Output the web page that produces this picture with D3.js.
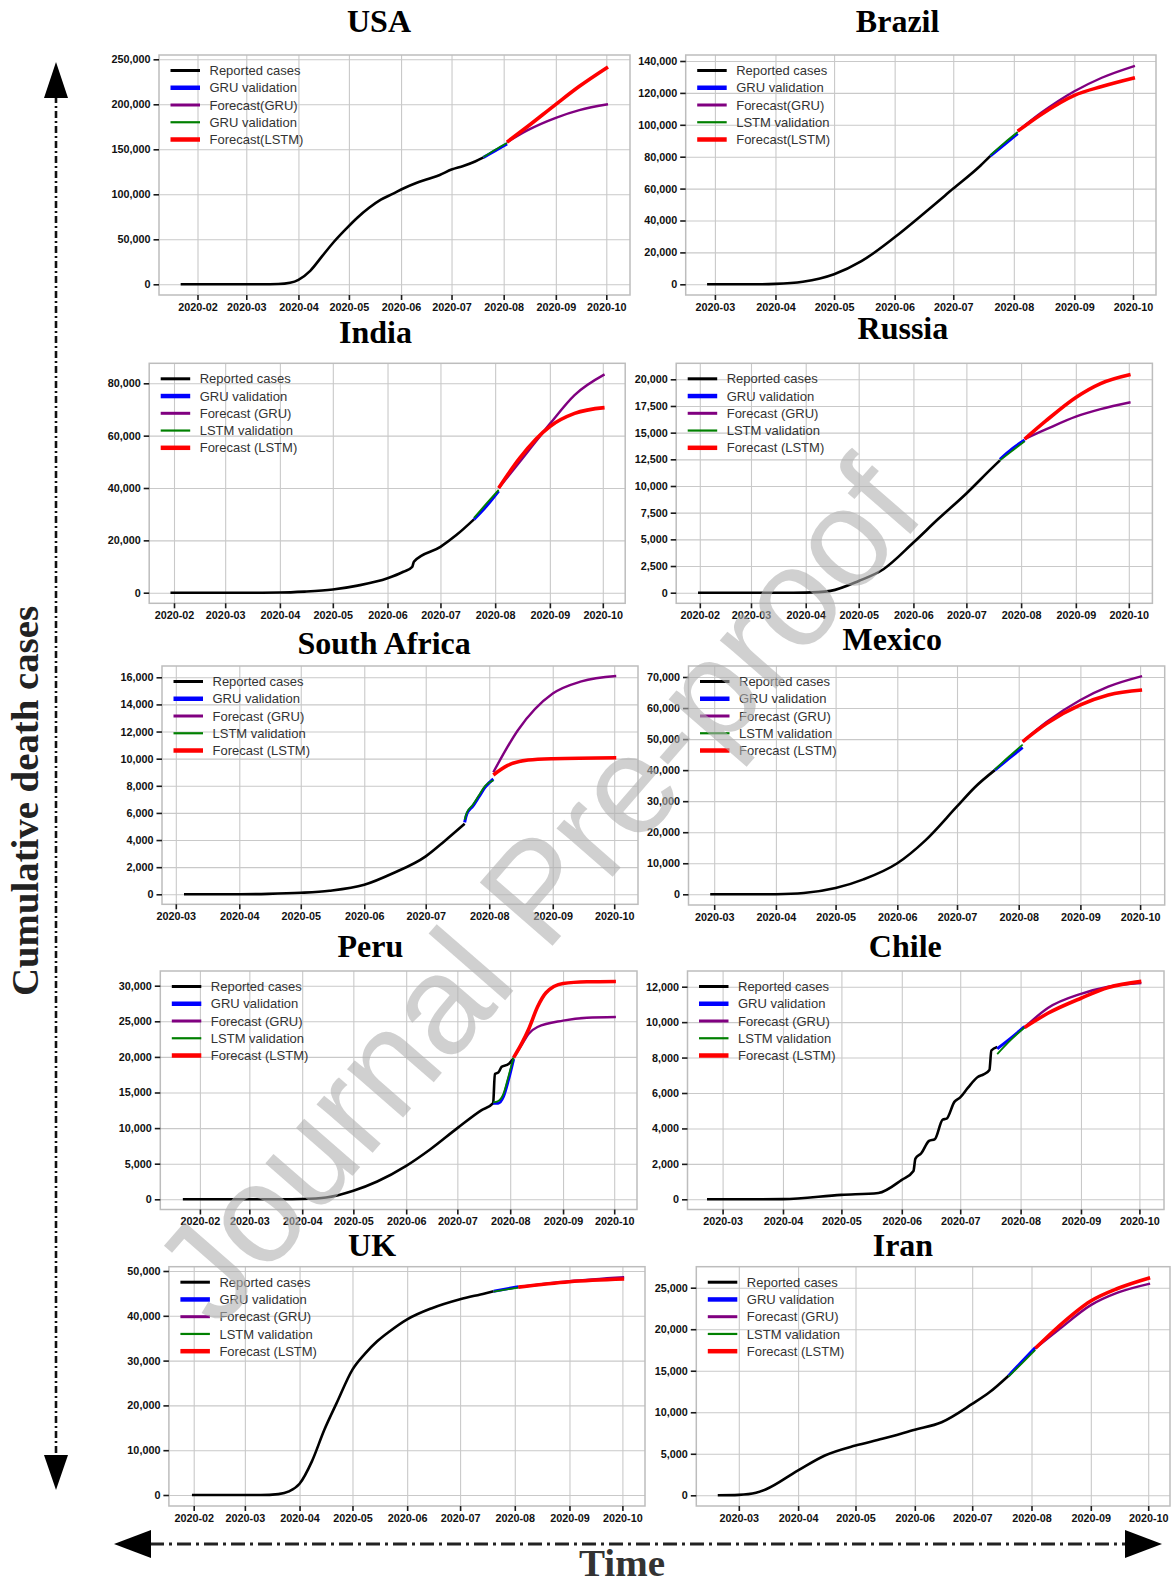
<!DOCTYPE html>
<html>
<head>
<meta charset="utf-8">
<script src="https://cdn.jsdelivr.net/npm/d3@7"></script>
<style>
body { margin: 0; background: #fff; }
svg { display: block; }
</style>
</head>
<body>
<svg id="chart"></svg>
<script>
const WIDTH = 1171;
const HEIGHT = 1586;

// ---- data (cumulative deaths) ----
const usaReported = [["2020-01-22",0],["2020-02-15",0],["2020-03-10",0],["2020-03-20",250],["2020-03-27",1700],["2020-04-01",5000],["2020-04-08",15000],["2020-04-15",31000],["2020-04-22",47000],["2020-04-29",61000],["2020-05-06",74000],["2020-05-13",85000],["2020-05-20",94000],["2020-05-27",100500],["2020-06-03",107000],["2020-06-10",112500],["2020-06-17",117000],["2020-06-24",121500],["2020-07-01",127500],["2020-07-08",131500],["2020-07-15",136500],["2020-07-20",141000]];
const usaGruVal = [["2020-07-20",141000],["2020-07-27",148500],["2020-08-03",156000]];
const usaGruFc = [["2020-08-03",158000],["2020-08-15",171000],["2020-09-01",185000],["2020-09-15",193500],["2020-10-02",200000]];
const usaLstmVal = [["2020-07-20",141500],["2020-07-27",149500],["2020-08-03",157000]];
const usaLstmFc = [["2020-08-03",158000],["2020-08-15",175000],["2020-09-01",200000],["2020-09-15",220000],["2020-10-02",241500]];

const brazilReported = [["2020-02-26",0],["2020-03-20",0],["2020-04-01",250],["2020-04-15",1600],["2020-05-01",6300],["2020-05-15",14500],["2020-06-01",29500],["2020-06-15",43500],["2020-07-01",60000],["2020-07-15",74500],["2020-07-20",80500]];
const brazilGruVal = [["2020-07-20",80500],["2020-07-27",87500],["2020-08-03",94500]];
const brazilGruFc = [["2020-08-03",96000],["2020-08-15",107500],["2020-09-01",121000],["2020-09-15",129500],["2020-10-02",137000]];
const brazilLstmVal = [["2020-07-20",81000],["2020-07-27",88500],["2020-08-03",95500]];
const brazilLstmFc = [["2020-08-03",96000],["2020-08-15",106500],["2020-09-01",118500],["2020-09-15",124000],["2020-10-02",129500]];

const indiaReported = [["2020-01-30",0],["2020-03-15",0],["2020-04-01",50],["2020-04-15",400],["2020-05-01",1200],["2020-05-15",2700],["2020-06-01",5500],["2020-06-10",8000],["2020-06-15",9900],["2020-06-16",11900],["2020-07-01",17500],["2020-07-10",22000],["2020-07-20",28000]];
const indiaGruVal = [["2020-07-20",28000],["2020-07-27",33000],["2020-08-03",38800]];
const indiaGruFc = [["2020-08-03",40000],["2020-08-15",50000],["2020-09-01",64500],["2020-09-15",75500],["2020-10-02",83400]];
const indiaLstmVal = [["2020-07-20",28600],["2020-07-27",34000],["2020-08-03",39300]];
const indiaLstmFc = [["2020-08-03",40000],["2020-08-15",51500],["2020-09-01",63500],["2020-09-15",68500],["2020-10-02",70700]];

const russiaReported = [["2020-01-31",0],["2020-03-25",0],["2020-04-08",50],["2020-04-15",170],["2020-05-01",1100],["2020-05-15",2200],["2020-06-01",4700],["2020-06-15",6900],["2020-07-01",9300],["2020-07-15",11600],["2020-07-20",12400]];
const russiaGruVal = [["2020-07-20",12500],["2020-07-27",13500],["2020-08-03",14300]];
const russiaGruFc = [["2020-08-03",14400],["2020-08-15",15300],["2020-09-01",16500],["2020-09-15",17200],["2020-10-02",17850]];
const russiaLstmVal = [["2020-07-20",12400],["2020-07-27",13300],["2020-08-03",14200]];
const russiaLstmFc = [["2020-08-03",14400],["2020-08-15",16100],["2020-09-01",18300],["2020-09-15",19600],["2020-10-02",20450]];

const safricaReported = [["2020-03-05",0],["2020-04-01",5],["2020-04-15",30],["2020-05-01",110],["2020-05-15",260],["2020-06-01",700],["2020-06-15",1550],["2020-07-01",2800],["2020-07-10",3900],["2020-07-20",5200]];
const safricaGruVal = [["2020-07-20",5300],["2020-07-21",5900],["2020-07-24",6500],["2020-07-27",7200],["2020-07-30",7900],["2020-08-03",8500]];
const safricaGruFc = [["2020-08-03",9000],["2020-08-15",12100],["2020-09-01",14800],["2020-09-15",15700],["2020-10-02",16100]];
const safricaLstmVal = [["2020-07-20",5500],["2020-07-21",6000],["2020-07-24",6600],["2020-07-27",7300],["2020-07-30",8000],["2020-08-03",8400]];
const safricaLstmFc = [["2020-08-03",8800],["2020-08-10",9500],["2020-08-20",9900],["2020-09-01",10000],["2020-10-02",10070]];

const mexicoReported = [["2020-02-28",0],["2020-03-25",0],["2020-04-01",30],["2020-04-15",400],["2020-05-01",2000],["2020-05-15",4800],["2020-06-01",10000],["2020-06-15",17300],["2020-07-01",28300],["2020-07-10",34500],["2020-07-20",40000]];
const mexicoGruVal = [["2020-07-20",40000],["2020-07-27",43700],["2020-08-03",47300]];
const mexicoGruFc = [["2020-08-03",49200],["2020-08-15",55500],["2020-09-01",62600],["2020-09-15",66900],["2020-10-02",70300]];
const mexicoLstmVal = [["2020-07-20",40200],["2020-07-27",44300],["2020-08-03",48200]];
const mexicoLstmFc = [["2020-08-03",49200],["2020-08-15",55000],["2020-09-01",61000],["2020-09-15",64200],["2020-10-02",65800]];

const peruReported = [["2020-01-22",0],["2020-03-20",0],["2020-04-01",40],["2020-04-15",250],["2020-05-01",1200],["2020-05-15",2500],["2020-06-01",4700],["2020-06-15",7000],["2020-07-01",10000],["2020-07-15",12500],["2020-07-22",13500],["2020-07-23",17600],["2020-07-25",17800],["2020-07-27",18600],["2020-07-31",19000],["2020-08-03",19800]];
const peruGruVal = [["2020-07-22",13500],["2020-07-25",13500],["2020-07-28",14400],["2020-07-31",16800],["2020-08-03",19700]];
const peruGruFc = [["2020-08-03",19900],["2020-08-08",21800],["2020-08-12",23300],["2020-08-17",24200],["2020-09-01",25100],["2020-09-15",25500],["2020-10-02",25600]];
const peruLstmVal = [["2020-07-22",13600],["2020-07-25",13800],["2020-07-28",14800],["2020-07-31",17300],["2020-08-03",19900]];
const peruLstmFc = [["2020-08-03",19900],["2020-08-08",22000],["2020-08-12",24000],["2020-08-17",27000],["2020-08-22",29000],["2020-09-01",30300],["2020-09-15",30550],["2020-10-02",30600]];

const chileReported = [["2020-02-22",0],["2020-03-20",0],["2020-04-01",10],["2020-05-01",250],["2020-05-20",360],["2020-06-01",1100],["2020-06-07",1600],["2020-06-08",2300],["2020-06-11",2600],["2020-06-15",3300],["2020-06-18",3400],["2020-06-22",4500],["2020-06-24",4550],["2020-06-28",5500],["2020-07-01",5750],["2020-07-05",6300],["2020-07-10",6900],["2020-07-13",7050],["2020-07-16",7300],["2020-07-17",8400],["2020-07-20",8600]];
const chileGruVal = [["2020-07-20",8500],["2020-07-27",9100],["2020-08-03",9750]];
const chileGruFc = [["2020-08-03",9700],["2020-08-15",10800],["2020-09-01",11600],["2020-09-15",12000],["2020-10-02",12200]];
const chileLstmVal = [["2020-07-20",8200],["2020-07-27",9000],["2020-08-03",9700]];
const chileLstmFc = [["2020-08-03",9700],["2020-08-15",10500],["2020-09-01",11350],["2020-09-15",11950],["2020-10-02",12300]];

const ukReported = [["2020-01-31",0],["2020-03-10",0],["2020-03-20",200],["2020-03-26",800],["2020-04-01",2500],["2020-04-08",7500],["2020-04-15",14500],["2020-04-22",20500],["2020-05-01",28000],["2020-05-08",31500],["2020-05-15",34300],["2020-05-22",36500],["2020-06-01",39200],["2020-06-15",41700],["2020-07-01",43700],["2020-07-15",45000],["2020-07-20",45500]];
const ukGruVal = [["2020-07-20",45500],["2020-08-03",46500]];
const ukGruFc = [["2020-08-03",46400],["2020-09-01",47700],["2020-10-02",48600]];
const ukLstmVal = [["2020-07-20",45400],["2020-08-03",46300]];
const ukLstmFc = [["2020-08-03",46400],["2020-09-01",47600],["2020-10-02",48200]];

const iranReported = [["2020-02-19",0],["2020-03-01",50],["2020-03-10",300],["2020-03-15",700],["2020-04-01",3000],["2020-04-15",4800],["2020-05-01",6000],["2020-05-15",6800],["2020-06-01",7900],["2020-06-15",8800],["2020-07-01",11000],["2020-07-10",12400],["2020-07-20",14400]];
const iranGruVal = [["2020-07-20",14400],["2020-07-27",16100],["2020-08-03",17800]];
const iranGruFc = [["2020-08-03",17700],["2020-08-15",19900],["2020-09-01",22900],["2020-09-15",24400],["2020-10-02",25500]];
const iranLstmVal = [["2020-07-20",14300],["2020-07-27",15900],["2020-08-03",17500]];
const iranLstmFc = [["2020-08-03",17700],["2020-08-15",20300],["2020-09-01",23400],["2020-09-15",24900],["2020-10-02",26200]];

// ---- tick labels ----
const monthsFeb = ["2020-02","2020-03","2020-04","2020-05","2020-06","2020-07","2020-08","2020-09","2020-10"];
const monthsMar = ["2020-03","2020-04","2020-05","2020-06","2020-07","2020-08","2020-09","2020-10"];
const usaTicks = [0, 50000, 100000, 150000, 200000, 250000];
const brazilTicks = [0, 20000, 40000, 60000, 80000, 100000, 120000, 140000];
const indiaTicks = [0, 20000, 40000, 60000, 80000];
const russiaTicks = [0, 2500, 5000, 7500, 10000, 12500, 15000, 17500, 20000];
const safricaTicks = [0, 2000, 4000, 6000, 8000, 10000, 12000, 14000, 16000];
const mexicoTicks = [0, 10000, 20000, 30000, 40000, 50000, 60000, 70000];
const peruTicks = [0, 5000, 10000, 15000, 20000, 25000, 30000];
const chileTicks = [0, 2000, 4000, 6000, 8000, 10000, 12000];
const ukTicks = [0, 10000, 20000, 30000, 40000, 50000];
const iranTicks = [0, 5000, 10000, 15000, 20000, 25000];

const legendUSA = ["Reported cases", "GRU validation", "Forecast(GRU)", "GRU validation", "Forecast(LSTM)"];
const legendBrazil = ["Reported cases", "GRU validation", "Forecast(GRU)", "LSTM validation", "Forecast(LSTM)"];
const legendSpaced = ["Reported cases", "GRU validation", "Forecast (GRU)", "LSTM validation", "Forecast (LSTM)"];

// order: reported, GRU validation, GRU forecast, LSTM validation, LSTM forecast
const SERIES_STYLE = [
    {color: "#000000", width: 2.6, legendWidth: 3},
    {color: "#0000ff", width: 3, legendWidth: 4.5},
    {color: "#800080", width: 2.4, legendWidth: 3},
    {color: "#008000", width: 1.8, legendWidth: 2.2},
    {color: "#ff0000", width: 3.6, legendWidth: 4.5}
];

// frame box, pixel of first/last month tick, pixel of 0 and top tick
const PANELS = [
    {title: "USA", tx: 379, ty: 32, box: [159, 55, 630, 295], months: monthsFeb, mx: [197.5, 606.3], yTicks: usaTicks, yPx: [284.3, 59.3], legend: legendUSA,
     series: [usaReported, usaGruVal, usaGruFc, usaLstmVal, usaLstmFc]},
    {title: "Brazil", tx: 897.6, ty: 32, box: [685.7, 55, 1156, 295], months: monthsMar, mx: [714.9, 1133], yTicks: brazilTicks, yPx: [284.3, 61], legend: legendBrazil,
     series: [brazilReported, brazilGruVal, brazilGruFc, brazilLstmVal, brazilLstmFc]},
    {title: "India", tx: 375.5, ty: 343, box: [149.2, 363.3, 625.2, 603.3], months: monthsFeb, mx: [174, 602.8], yTicks: indiaTicks, yPx: [592.7, 383.3], legend: legendSpaced,
     series: [indiaReported, indiaGruVal, indiaGruFc, indiaLstmVal, indiaLstmFc]},
    {title: "Russia", tx: 902.9, ty: 339, box: [676.2, 363.3, 1152.4, 603.3], months: monthsFeb, mx: [699.8, 1128.8], yTicks: russiaTicks, yPx: [592.7, 379.3], legend: legendSpaced,
     series: [russiaReported, russiaGruVal, russiaGruFc, russiaLstmVal, russiaLstmFc]},
    {title: "South Africa", tx: 384.1, ty: 654, box: [162, 666, 638, 904.3], months: monthsMar, mx: [175.8, 614.2], yTicks: safricaTicks, yPx: [894.3, 677.3], legend: legendSpaced,
     series: [safricaReported, safricaGruVal, safricaGruFc, safricaLstmVal, safricaLstmFc]},
    {title: "Mexico", tx: 892.3, ty: 650, box: [688.5, 666, 1164.7, 905], months: monthsMar, mx: [714.2, 1140.1], yTicks: mexicoTicks, yPx: [894.3, 677], legend: legendSpaced,
     series: [mexicoReported, mexicoGruVal, mexicoGruFc, mexicoLstmVal, mexicoLstmFc]},
    {title: "Peru", tx: 370.3, ty: 957, box: [160.3, 971, 637, 1209.5], months: monthsFeb, mx: [199.9, 614.2], yTicks: peruTicks, yPx: [1199.3, 985.7], legend: legendSpaced,
     series: [peruReported, peruGruVal, peruGruFc, peruLstmVal, peruLstmFc]},
    {title: "Chile", tx: 905.3, ty: 957, box: [687.5, 971, 1164, 1209.5], months: monthsMar, mx: [722.6, 1139.4], yTicks: chileTicks, yPx: [1199.3, 986.7], legend: legendSpaced,
     series: [chileReported, chileGruVal, chileGruFc, chileLstmVal, chileLstmFc]},
    {title: "UK", tx: 372.1, ty: 1256, box: [168.9, 1266.7, 645, 1506], months: monthsFeb, mx: [193.7, 622.4], yTicks: ukTicks, yPx: [1495, 1271], legend: legendSpaced,
     series: [ukReported, ukGruVal, ukGruFc, ukLstmVal, ukLstmFc]},
    {title: "Iran", tx: 902.9, ty: 1256, box: [696.3, 1266.7, 1170, 1506], months: monthsMar, mx: [738.8, 1148.2], yTicks: iranTicks, yPx: [1495.3, 1287.7], legend: legendSpaced,
     series: [iranReported, iranGruVal, iranGruFc, iranLstmVal, iranLstmFc]}
];

const parseDay = d3.utcParse("%Y-%m-%d");
const parseMonth = d3.utcParse("%Y-%m");
const TICK_FONT = "bold 10.8px 'Liberation Sans', Arial, sans-serif";


function drawPanel(svg, p) {
    const [left, top, right, bottom] = p.box;
    const months = p.months.map(parseMonth);
    const x = d3.scaleUtc().domain([months[0], months[months.length - 1]]).range(p.mx);
    const y = d3.scaleLinear().domain([0, p.yTicks[p.yTicks.length - 1]]).range(p.yPx);

    const g = svg.append("g");

    // grid
    const gx = g.append("g").attr("transform", `translate(0,${bottom})`)
        .call(d3.axisBottom(x).tickValues(months).tickSize(-(bottom - top)).tickFormat(""));
    const gy = g.append("g").attr("transform", `translate(${left},0)`)
        .call(d3.axisLeft(y).tickValues(p.yTicks).tickSize(-(right - left)).tickFormat(""));
    [gx, gy].forEach(a => {
        a.select(".domain").remove();
        a.selectAll("line").attr("stroke", "#c9c9c9").attr("stroke-width", 1.1);
    });

    g.append("rect")
        .attr("x", left).attr("y", top)
        .attr("width", right - left).attr("height", bottom - top)
        .attr("fill", "none").attr("stroke", "#bdbdbd").attr("stroke-width", 1.5);

    // axes with ticks and labels
    const ax = g.append("g").attr("transform", `translate(0,${bottom})`)
        .call(d3.axisBottom(x).tickValues(months).tickSize(5).tickPadding(3).tickFormat(d3.utcFormat("%Y-%m")));
    const ay = g.append("g").attr("transform", `translate(${left},0)`)
        .call(d3.axisLeft(y).tickValues(p.yTicks).tickSize(5.5).tickPadding(3).tickFormat(d3.format(",")));
    [ax, ay].forEach(a => {
        a.select(".domain").remove();
        a.selectAll("line").attr("stroke", "#1a1a1a").attr("stroke-width", 1.6);
        a.selectAll("text").style("font", TICK_FONT).attr("fill", "#111");
    });

    // lines
    const line = d3.line()
        .x(d => x(parseDay(d[0])))
        .y(d => y(d[1]))
        .curve(d3.curveMonotoneX);

    p.series.forEach((s, i) => {
        g.append("path")
            .datum(s)
            .attr("fill", "none")
            .attr("stroke", SERIES_STYLE[i].color)
            .attr("stroke-width", SERIES_STYLE[i].width)
            .attr("stroke-linejoin", "round")
            .attr("d", line);
    });

    // title
    svg.append("text")
        .attr("x", p.tx).attr("y", p.ty)
        .attr("text-anchor", "middle")
        .style("font", "bold 32px 'Liberation Serif', 'Times New Roman', serif")
        .text(p.title);

    // legend
    const lg = g.append("g").attr("transform", `translate(${left + 11.5},${top + 15.5})`);
    p.legend.forEach((label, i) => {
        const row = lg.append("g").attr("transform", `translate(0,${i * 17.25})`);
        row.append("line")
            .attr("x1", 0).attr("x2", 29.5)
            .attr("stroke", SERIES_STYLE[i].color)
            .attr("stroke-width", SERIES_STYLE[i].legendWidth);
        row.append("text")
            .attr("x", 39).attr("dy", "0.36em")
            .attr("fill", "#333")
            .style("font", "13px 'Liberation Sans', Arial, sans-serif")
            .text(label);
    });
}


document.addEventListener("DOMContentLoaded", function() {
    const svg = d3.select("#chart")
        .attr("width", WIDTH)
        .attr("height", HEIGHT)
        .style("background", "#fff");

    PANELS.forEach(p => drawPanel(svg, p));

    // vertical arrow + label
    svg.append("line")
        .attr("x1", 56).attr("x2", 56).attr("y1", 96).attr("y2", 1457)
        .attr("stroke", "#111").attr("stroke-width", 2.6)
        .attr("stroke-dasharray", "7,3,2,3");
    svg.append("path").attr("d", "M56,62 L44,98 L68,98 Z").attr("fill", "#000");
    svg.append("path").attr("d", "M56,1490 L44,1455 L68,1455 Z").attr("fill", "#000");
    svg.append("text")
        .attr("transform", "translate(38,801) rotate(-90)")
        .attr("text-anchor", "middle")
        .attr("textLength", 390)
        .attr("lengthAdjust", "spacingAndGlyphs")
        .style("font", "bold 38px 'Liberation Serif', 'Times New Roman', serif")
        .attr("fill", "#222")
        .text("Cumulative death cases");

    // horizontal arrow + label
    svg.append("line")
        .attr("x1", 150).attr("x2", 1126).attr("y1", 1544).attr("y2", 1544)
        .attr("stroke", "#222").attr("stroke-width", 3)
        .attr("stroke-dasharray", "14,5,3,5");
    svg.append("path").attr("d", "M114,1544 L151,1530 L151,1558 Z").attr("fill", "#000");
    svg.append("path").attr("d", "M1162,1544 L1125,1530 L1125,1558 Z").attr("fill", "#000");
    svg.append("text")
        .attr("x", 622).attr("y", 1576)
        .attr("text-anchor", "middle")
        .attr("textLength", 86)
        .attr("lengthAdjust", "spacingAndGlyphs")
        .style("font", "bold 37px 'Liberation Serif', 'Times New Roman', serif")
        .attr("fill", "#333")
        .text("Time");

    // watermark
    svg.append("text")
        .attr("transform", "translate(536,890) rotate(-49)")
        .attr("text-anchor", "middle")
        .attr("dy", "0.35em")
        .style("font", "140px 'Liberation Sans', Arial, sans-serif")
        .attr("fill", "#b0b0b0")
        .attr("fill-opacity", 0.6)
        .text("Journal Pre-proof");
});
</script>
</body>
</html>
